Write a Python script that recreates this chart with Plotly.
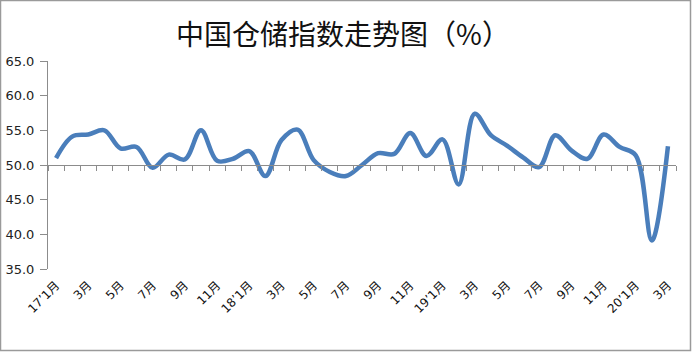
import plotly.graph_objects as go

# Data
months = ["17’1月","2月","3月","4月","5月","6月","7月","8月","9月","10月","11月","12月",
          "18’1月","2月","3月","4月","5月","6月","7月","8月","9月","10月","11月","12月",
          "19’1月","2月","3月","4月","5月","6月","7月","8月","9月","10月","11月","12月",
          "20’1月","2月","3月"]
values = [51.0, 54.1, 54.4, 55.0, 52.4, 52.6, 49.6, 51.5, 50.8, 55.0, 50.6, 50.9,
          52.0, 48.4, 53.6, 55.1, 50.7, 49.0, 48.4, 50.0, 51.7, 51.6, 54.6, 51.3,
          53.7, 47.2, 57.4, 54.3, 52.8, 51.1, 49.7, 54.3, 52.1, 50.9, 54.4, 52.6,
          51.4, 39.1, 52.7]
y_ticks = [35, 40, 45, 50, 55, 60, 65]

idx = list(range(len(months)))
label_idx = idx[::2]
label_txt = [months[i] for i in label_idx]

W, H = 692, 354
ml, mr, mt, mb = 48, 16, 61, 85
ymin, ymax = 35, 65
axis_gray = "#8c8c8c"

fig = go.Figure()
fig.add_trace(go.Scatter(x=idx, y=values, mode="lines", xaxis="x2",
                         line=dict(color="#4a7ebb", width=4.5, shape="spline", smoothing=1),
                         hoverinfo="skip", showlegend=False, opacity=0))
fig.add_trace(go.Scatter(x=idx, y=values, mode="lines",
                         line=dict(color="#4a7ebb", width=4.5, shape="spline", smoothing=1),
                         showlegend=False))

fig.update_layout(
    width=W, height=H,
    margin=dict(l=ml, r=mr, t=mt, b=mb, autoexpand=False),
    paper_bgcolor="white", plot_bgcolor="white",
    title=dict(text="中国仓储指数走势图（%）", x=343 / W, xanchor="center",
               y=1 - 35 / H, yanchor="middle", xref="container", yref="container",
               font=dict(family="Noto Sans CJK SC", size=28, color="#111111")),
    xaxis=dict(range=[-0.5, len(months) - 0.5], anchor="free", position=(50 - ymin) / (ymax - ymin),
               tickmode="linear", tick0=-0.5, dtick=1, ticks="outside", ticklen=5,
               tickcolor=axis_gray, tickwidth=1, showticklabels=False, showline=True,
               linecolor=axis_gray, linewidth=1, showgrid=False, zeroline=False,
               automargin=False),
    xaxis2=dict(range=[-0.5, len(months) - 0.5], overlaying="x", anchor="y", side="bottom",
                tickmode="array", tickvals=label_idx, ticktext=label_txt, tickangle=-45,
                ticks="", showline=False, showgrid=False, zeroline=False, automargin=False,
                ticklabelstandoff=6,
                tickfont=dict(family="DejaVu Sans, Noto Sans CJK SC", size=12, color="#111111")),
    yaxis=dict(range=[ymin, ymax], tickmode="array", tickvals=y_ticks,
               tickformat=".1f", ticks="outside", ticklen=7, tickcolor=axis_gray,
               showline=True, linecolor=axis_gray, linewidth=1, showgrid=False, zeroline=False,
               ticklabelstandoff=3, automargin=False,
               tickfont=dict(family="DejaVu Sans", size=13, color="#222222")),
)

# outer frame
pw, ph = W - ml - mr, H - mt - mb
fig.add_shape(type="rect", xref="paper", yref="paper",
              x0=-(ml - 0.5) / pw, x1=1 + (690.5 - (W - mr)) / pw,
              y0=-(350.5 - (H - mb)) / ph, y1=1 + (mt - 0.5) / ph,
              line=dict(color="#9a9a9a", width=1.5), fillcolor="rgba(0,0,0,0)", layer="below")

fig.write_html("out.html")
